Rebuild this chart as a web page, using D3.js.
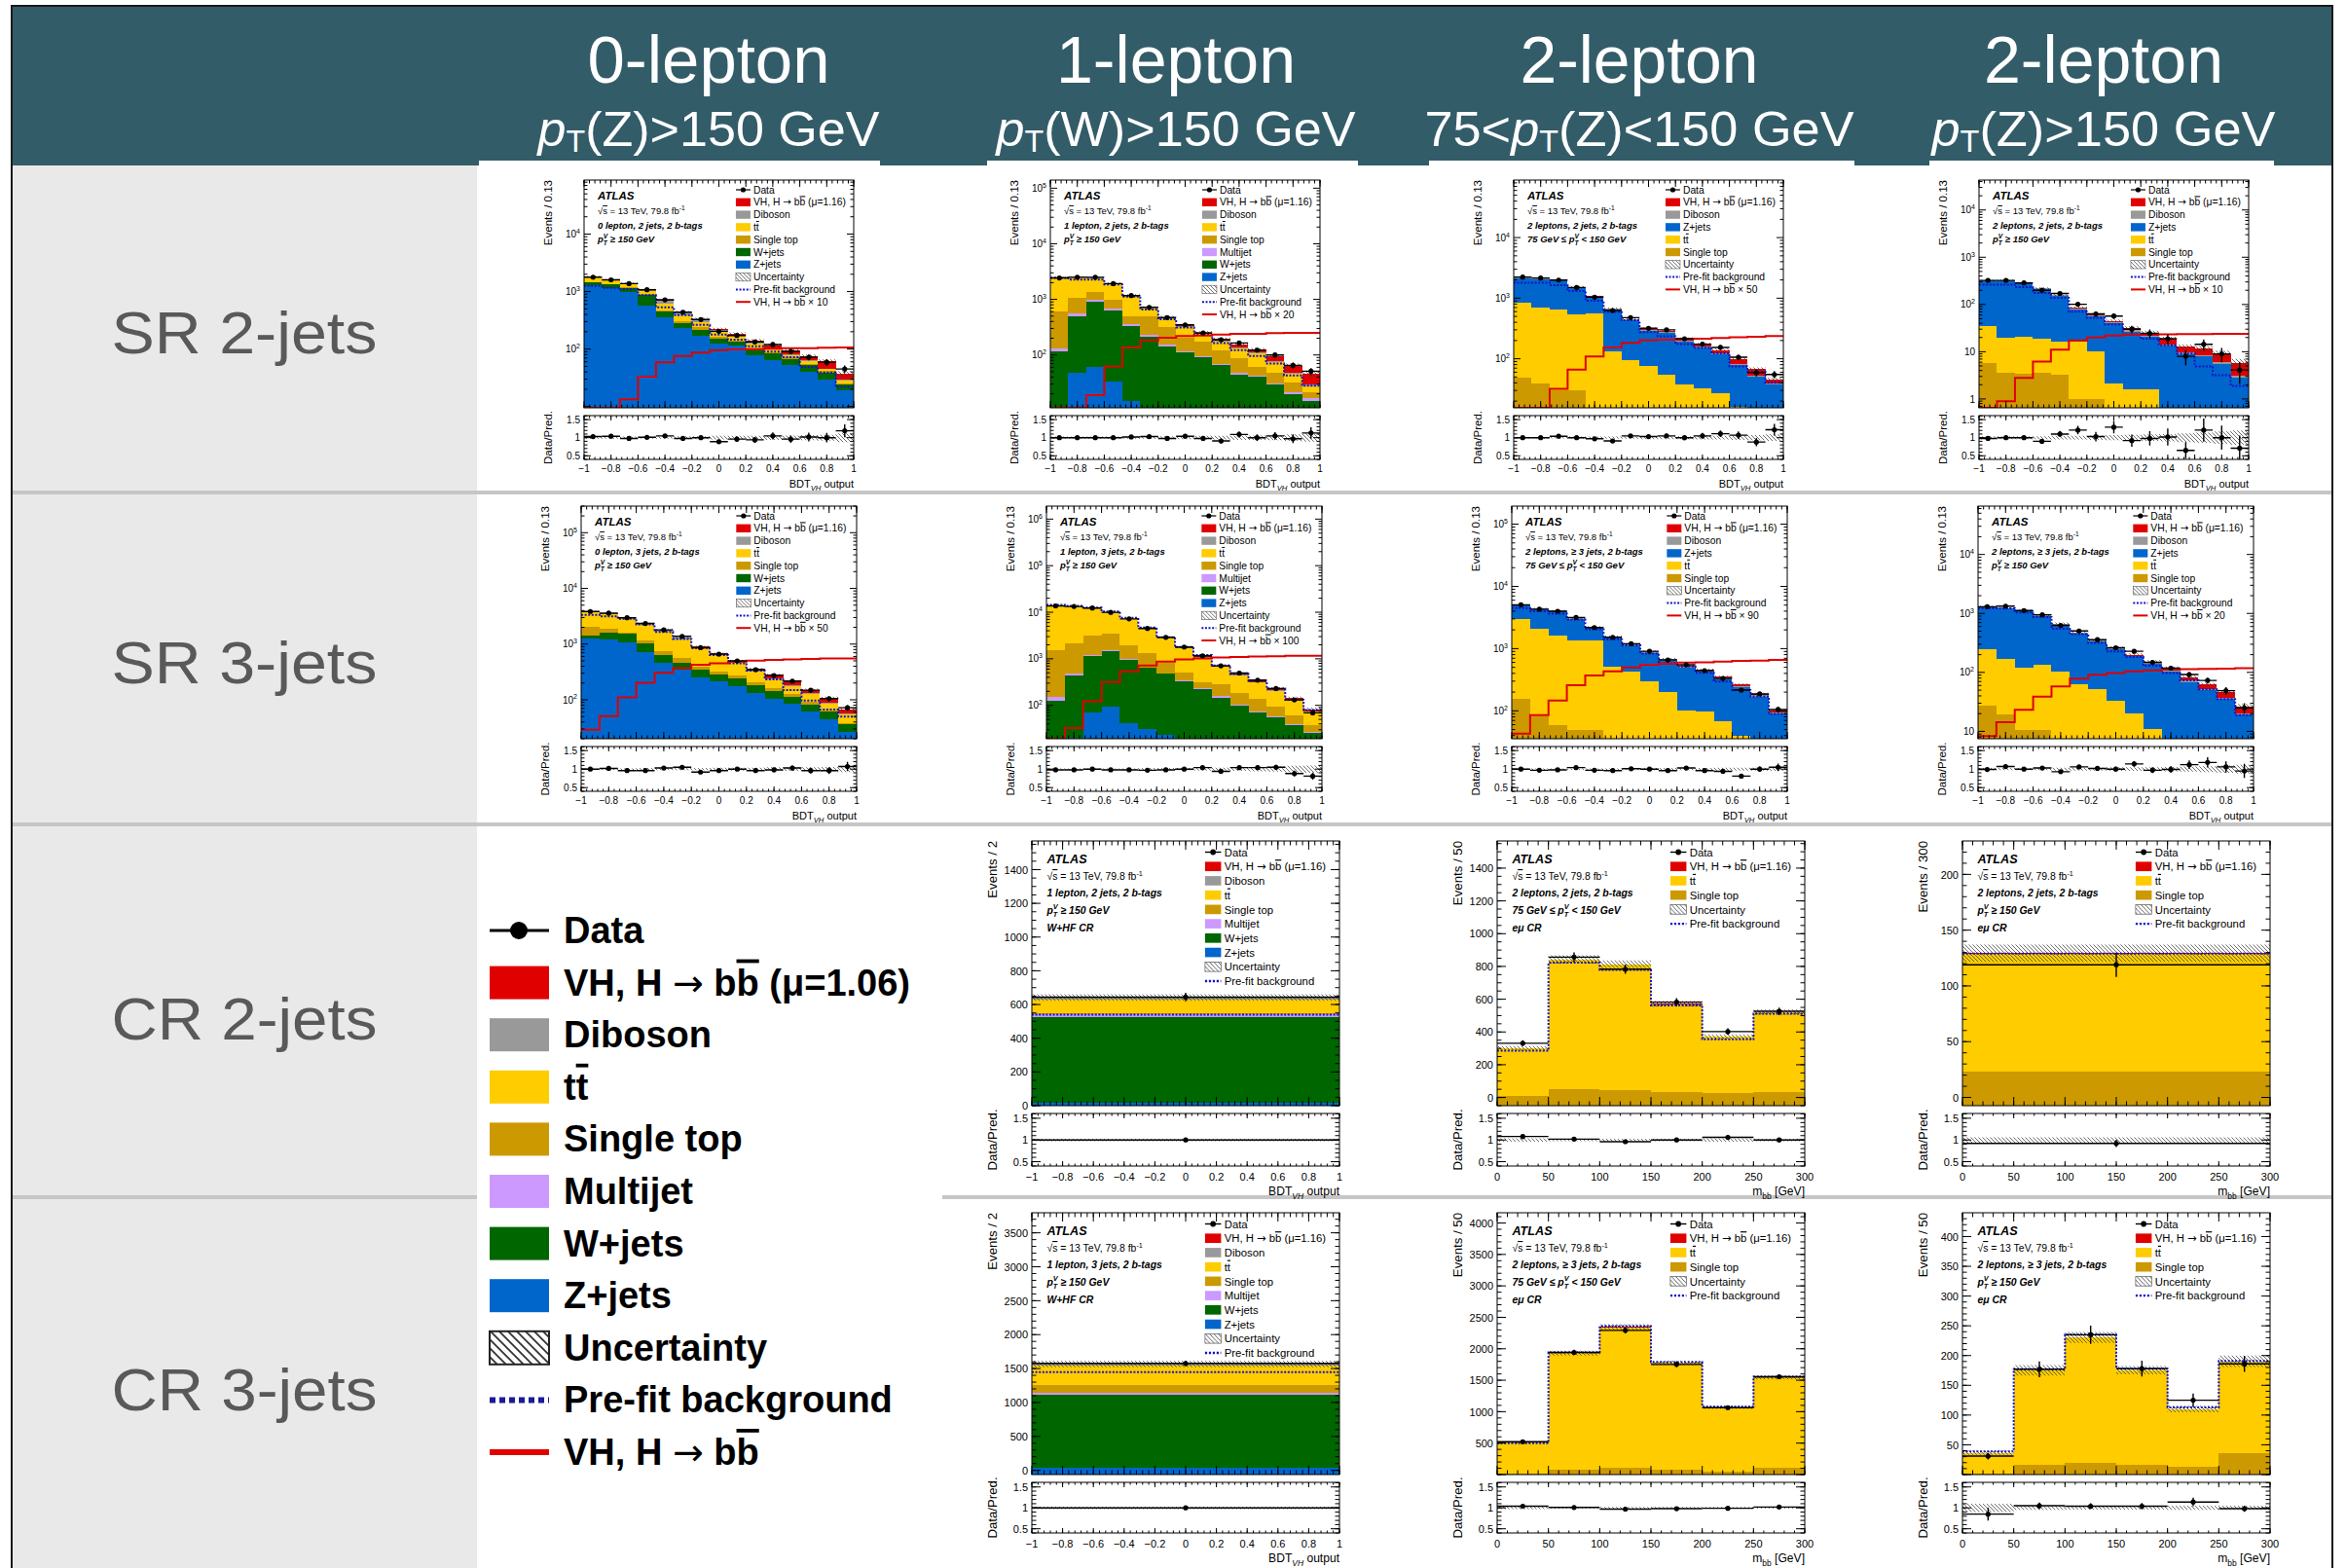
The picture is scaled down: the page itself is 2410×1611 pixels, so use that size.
<!doctype html>
<html lang="en">
<head>
<meta charset="utf-8">
<title>VH, H to bb post-fit distributions</title>
<style>
  * { margin: 0; padding: 0; border: 0; }
  body { background: #fff; width: 2410px; height: 1611px; overflow: hidden; }
  svg { display: block; }
  text { font-family: 'Liberation Sans', Arial, sans-serif; }
</style>
</head>
<body>
<div id="chart"></div>
<script src="https://cdn.jsdelivr.net/npm/d3@7"></script>
<script>

// ---- bins and ticks
const bdtEdges = [-1, -0.8667, -0.7333, -0.6, -0.4667, -0.3333, -0.2, -0.0667, 0.0667, 0.2, 0.3333, 0.4667, 0.6, 0.7333, 0.8667, 1];
const bdtOneBin = [-1, 1];
const mbbEdges = [0, 50, 100, 150, 200, 250, 300];
const mbbOneBin = [0, 300];
const bdtTicks = [-1, -0.8, -0.6, -0.4, -0.2, 0, 0.2, 0.4, 0.6, 0.8, 1];
const mbbTicks = [0, 50, 100, 150, 200, 250, 300];

const colTitles = ['0-lepton', '1-lepton', '2-lepton', '2-lepton'];
const rowTitles = ['SR 2-jets', 'SR 3-jets', 'CR 2-jets', 'CR 3-jets'];

// ---- SR 2-jets, 0 lepton
const A_z = [1290, 1160, 1000, 580, 350, 230, 172, 125, 114, 79, 65, 52, 40, 30, 19];
const A_w = [150, 160, 150, 290, 95, 55, 45, 28, 20, 20, 18, 16, 13, 9, 5];
const A_st = [40, 40, 40, 40, 30, 25, 20, 10, 8, 6, 4, 3, 2, 2, 1];
const A_tt = [260, 180, 150, 130, 130, 80, 55, 35, 26, 20, 12, 8, 6, 4, 3];
const A_db = [80, 60, 50, 40, 100, 45, 35, 15, 8, 5, 4, 3, 2, 1, 1];
const A_vh = [2, 3, 3, 5, 5, 6, 8, 10, 10, 12, 14, 14, 12, 15, 8];
const A_data = [1780, 1600, 1375, 1075, 718, 438, 326, 204, 172, 133, 120, 91, 72, 59, 45];
const A_ratio = [1.03, 1.04, 0.98, 1.01, 1.05, 0.98, 1.0, 0.89, 0.96, 0.94, 1.05, 0.96, 1.02, 1.0, 1.19];
const A_prefit = [1255, 1165, 1100, 870, 533, 390, 264, 179, 146, 112, 90, 72, 49, 39, 22];
const A_sig = [9, 9, 13.4, 33, 59, 76, 87, 96, 99, 99, 101, 103, 103, 105, 107];
const A_unc = [0.03, 0.03, 0.03, 0.03, 0.03, 0.04, 0.04, 0.05, 0.05, 0.05, 0.06, 0.06, 0.07, 0.08, 0.12];

// ---- SR 2-jets, 1 lepton
const B_z = [2, 48, 60, 33, 15, 5, 2, 0, 0, 0, 0, 0, 0, 0, 0];
const B_w = [113, 452, 860, 607, 320, 210, 140, 110, 90, 66, 45, 41, 29, 20, 15];
const B_mj = [16, 50, 60, 40, 23, 15, 10, 8, 6, 4, 3, 2, 2, 1.5, 1.5];
const B_st = [480, 500, 390, 300, 140, 270, 160, 85, 75, 52, 38, 18, 16, 10, 4.5];
const B_tt = [1840, 1450, 1050, 940, 670, 200, 150, 120, 65, 55, 45, 45, 27, 15, 6];
const B_db = [40, 40, 40, 30, 30, 20, 15, 10, 8, 6, 5, 4, 3, 2, 2];
const B_vh = [2, 3, 4, 5, 6, 7, 8, 10, 10, 13, 18, 16, 19, 16, 17];
const B_data = [2430, 2500, 2500, 1920, 1170, 720, 470, 348, 249, 188, 164, 122, 100, 65, 51];
const B_ratio = [1.0, 1.0, 1.0, 1.0, 1.02, 1.03, 0.98, 1.04, 0.98, 0.91, 1.09, 1.0, 1.05, 0.97, 1.13];
const B_prefit = [2430, 2280, 2280, 1860, 1120, 655, 438, 313, 230, 164, 122, 96, 70, 43, 28];
const B_sig = [10, 10, 19, 62, 136, 183, 204, 218, 224, 233, 240, 240, 246, 249, 249];
const B_unc = [0.03, 0.03, 0.03, 0.03, 0.03, 0.03, 0.04, 0.04, 0.05, 0.05, 0.06, 0.06, 0.07, 0.09, 0.11];

// ---- SR 2-jets, 2 leptons, 75-150 GeV
const C_st = [48, 39, 30, 30, 8, 3, 1, 0, 0, 0, 0, 0, 0, 0, 0];
const C_tt = [780, 650, 620, 510, 560, 128, 95, 75, 55, 38, 33, 27, 16, 2, 1];
const C_z = [1300, 1390, 1290, 960, 470, 510, 330, 215, 210, 155, 118, 90, 62, 48, 36];
const C_db = [60, 60, 50, 45, 30, 30, 20, 12, 10, 8, 7, 6, 4, 3, 2];
const C_vh = [2, 3, 4, 5, 5, 8, 10, 12, 13, 14, 16, 17, 17, 14, 6];
const C_data = [2230, 2150, 1990, 1500, 1040, 626, 477, 318, 300, 214, 174, 154, 106, 59, 55];
const C_ratio = [1.0, 1.0, 1.04, 1.0, 0.97, 0.91, 1.05, 1.03, 1.05, 1.0, 1.05, 1.11, 1.07, 0.88, 1.22];
const C_prefit = [1800, 1800, 1640, 1310, 905, 595, 432, 275, 234, 174, 152, 123, 75, 61, 40];
const C_sig = [15, 15, 32, 66, 109, 154, 183, 202, 207, 212, 214, 220, 226, 231, 237];
const C_unc = [0.02, 0.02, 0.02, 0.03, 0.03, 0.03, 0.03, 0.04, 0.04, 0.04, 0.05, 0.05, 0.06, 0.07, 0.09];

// ---- SR 2-jets, 2 leptons, >150 GeV
const D_st = [5.9, 3.6, 3.4, 3.6, 3.3, 1, 1, 0.3, 0, 0, 0, 0, 0, 0, 0];
const D_tt = [29, 16, 17, 15, 13, 15, 9, 1.8, 1.6, 1.6, 0, 0, 0, 0, 0];
const D_z = [280, 295, 258, 195, 137, 63, 47, 38, 25, 19, 13.5, 8.8, 8, 5.6, 2.8];
const D_db = [8, 8, 7, 7, 6, 5, 3, 2.5, 2, 1.5, 1, 0.7, 0.6, 0.4, 0.3];
const D_vh = [0.5, 0.6, 0.8, 1, 1, 2, 2, 2.5, 3.4, 3.4, 4.3, 3.2, 3, 3, 2.8];
const D_data = [323, 323, 286, 200, 171, 101, 63, 57, 30, 24.5, 18.8, 8, 14.4, 9, 4.1];
const D_ratio = [0.98, 1.0, 1.0, 0.9, 1.1, 1.21, 1.03, 1.29, 0.92, 0.98, 1.02, 0.65, 1.21, 1.0, 0.71];
const D_prefit = [262, 262, 234, 176, 139, 70, 52, 38, 23, 18.8, 13.7, 9.2, 4.9, 3.2, 1.9];
const D_sig = [0.65, 0.9, 2.8, 6.2, 11.1, 17.3, 20, 22, 23, 23, 23.4, 23.6, 23.6, 23.8, 23.8];
const D_unc = [0.04, 0.04, 0.04, 0.04, 0.05, 0.05, 0.06, 0.07, 0.08, 0.09, 0.1, 0.12, 0.14, 0.17, 0.2];

// ---- SR 3-jets, 0 lepton
const E_z = [1240, 1190, 1080, 725, 454, 347, 255, 212, 178, 132, 104, 85, 61, 45, 26];
const E_w = [180, 430, 440, 315, 180, 120, 92, 72, 64, 51, 41, 26, 21, 16, 10];
const E_st = [640, 230, 100, 120, 110, 90, 50, 40, 35, 20, 20, 16, 9, 4, 2];
const E_tt = [1660, 1580, 1260, 1080, 960, 670, 450, 305, 183, 113, 72, 51, 37, 19, 17];
const E_db = [120, 120, 90, 100, 90, 70, 40, 25, 15, 12, 10, 7, 4, 3, 2];
const E_vh = [5, 6, 8, 10, 12, 15, 18, 22, 25, 30, 32, 26, 20, 21, 11];
const E_data = [3850, 3600, 2970, 2350, 1800, 1380, 862, 660, 500, 347, 273, 217, 149, 105, 72];
const E_ratio = [1.0, 1.02, 0.96, 0.96, 1.03, 1.05, 0.92, 0.96, 1.0, 0.96, 0.98, 1.03, 0.96, 0.96, 1.07];
const E_prefit = [3360, 3160, 2840, 2270, 1660, 1240, 850, 635, 454, 334, 233, 149, 97, 67, 50];
const E_sig = [29, 51, 111, 203, 304, 371, 424, 454, 485, 505, 519, 532, 540, 555, 555];
const E_unc = [0.02, 0.02, 0.02, 0.03, 0.03, 0.03, 0.03, 0.04, 0.04, 0.04, 0.05, 0.05, 0.05, 0.06, 0.08];

// ---- SR 3-jets, 1 lepton
const F_z = [2, 20, 72, 92, 41, 31, 23, 5, 2, 1, 0, 0, 0, 0, 1];
const F_w = [125, 420, 1090, 1390, 900, 600, 450, 327, 225, 147, 98, 71, 56, 37, 25];
const F_mj = [22, 40, 30, 40, 30, 25, 20, 15, 10, 8, 5, 4, 3, 2, 1];
const F_st = [1380, 1640, 1930, 1880, 970, 640, 310, 150, 80, 130, 85, 62, 34, 23, 11];
const F_tt = [12000, 11000, 9000, 6400, 5150, 3300, 2000, 1230, 750, 380, 250, 170, 110, 65, 35];
const F_db = [150, 150, 150, 130, 90, 80, 60, 40, 30, 20, 12, 8, 5, 3, 2];
const F_vh = [5, 8, 10, 15, 20, 24, 30, 30, 35, 35, 30, 25, 18, 12, 6];
const F_data = [13700, 13300, 12300, 9950, 7200, 4480, 2890, 1790, 1160, 706, 495, 348, 230, 131, 69];
const F_ratio = [0.98, 0.98, 1.0, 0.98, 0.98, 0.97, 0.98, 1.0, 1.04, 0.94, 1.04, 1.04, 1.05, 0.88, 0.81];
const F_prefit = [14400, 13700, 12600, 10400, 7560, 4700, 2890, 1790, 1200, 717, 473, 333, 230, 131, 79];
const F_sig = [19, 32.5, 123, 317, 538, 720, 870, 973, 1020, 1070, 1090, 1120, 1140, 1160, 1160];
const F_unc = [0.02, 0.02, 0.02, 0.02, 0.02, 0.03, 0.03, 0.03, 0.04, 0.04, 0.05, 0.06, 0.07, 0.09, 0.1];

// ---- SR 3-jets, 2 leptons, 75-150 GeV
const G_st = [156, 82, 60, 49, 49, 10, 5, 3, 2, 1, 1, 0, 0, 0, 0];
const G_tt = [2790, 1970, 1555, 1300, 1300, 507, 426, 298, 196, 101, 95, 67, 39, 10, 5];
const G_z = [1950, 2250, 2330, 1590, 820, 1000, 710, 560, 445, 395, 335, 258, 200, 160, 85];
const G_db = [150, 130, 120, 90, 70, 55, 40, 35, 28, 22, 17, 14, 12, 7, 4];
const G_vh = [4, 6, 8, 10, 12, 10, 12, 14, 14, 15, 14, 14, 14, 10, 6];
const G_data = [5050, 4310, 3990, 3160, 2180, 1520, 1200, 908, 657, 550, 443, 332, 215, 187, 105];
const G_ratio = [1.0, 0.97, 0.98, 1.04, 0.97, 0.96, 1.01, 1.0, 0.96, 1.03, 0.96, 0.94, 0.81, 1.0, 1.05];
const G_prefit = [4480, 3990, 3650, 2945, 2053, 1400, 1130, 835, 583, 517, 407, 295, 215, 170, 89];
const G_sig = [43, 85, 147, 258, 369, 431, 499, 549, 570, 596, 604, 619, 635, 640, 657];
const G_unc = [0.02, 0.02, 0.02, 0.02, 0.02, 0.02, 0.03, 0.03, 0.03, 0.03, 0.03, 0.04, 0.04, 0.04, 0.05];

// ---- SR 3-jets, 2 leptons, >150 GeV
const H_st = [27, 19.5, 10.4, 10.6, 7, 5, 3, 1, 0.5, 0.3, 0, 0, 0, 0, 0];
const H_tt = [225, 152, 110, 123, 97, 57, 50, 32, 20, 10.7, 5, 3, 2, 1, 0.5];
const H_z = [1020, 1030, 965, 757, 546, 396, 282, 214, 166, 129, 100, 66, 48, 34, 19];
const H_db = [40, 40, 33, 28, 20, 14, 11, 8, 6, 5, 4, 3, 2, 1.5, 1];
const H_vh = [1, 1.5, 2, 3, 4, 4, 6, 7, 7.5, 8, 10, 10, 10, 9.5, 5.5];
const H_data = [1300, 1330, 1120, 950, 627, 505, 359, 262, 228, 148, 118, 92, 73, 49, 25];
const H_ratio = [0.99, 1.07, 1.0, 1.03, 0.93, 1.06, 1.02, 1.0, 1.14, 0.97, 0.99, 1.12, 1.18, 1.06, 0.95];
const H_prefit = [1225, 1225, 1040, 870, 550, 444, 316, 228, 183, 130, 97.6, 73, 51.8, 35.4, 18.8];
const H_sig = [8.3, 14.3, 23.3, 38.7, 58, 78.5, 91, 97.6, 104, 108, 111, 113, 115, 116, 118];
const H_unc = [0.03, 0.03, 0.03, 0.03, 0.04, 0.04, 0.04, 0.05, 0.05, 0.05, 0.06, 0.07, 0.08, 0.1, 0.12];

// ---- CR 2-jets
const I_z = [18], I_w = [506], I_mj = [16], I_st = [10], I_tt = [80], I_db = [10], I_vh = [1];
const I_data = [644], I_ratio = [1.0], I_prefit = [540], I_unc = [0.03];
const J_st = [10, 50, 46, 34, 28, 36];
const J_tt = [291, 790, 765, 536, 341, 484];
const J_vh = [0.5, 2, 2, 1.5, 1, 1];
const J_data = [331, 857, 783, 582, 402, 526];
const J_ratio = [1.08, 1.02, 0.96, 1.0, 1.06, 1.0];
const J_prefit = [285, 823, 779, 562, 355, 512];
const J_unc = [0.04, 0.03, 0.03, 0.03, 0.04, 0.03];
const K_st = [23], K_tt = [106], K_vh = [0.3];
const K_data = [119], K_ratio = [0.92], K_prefit = [129], K_unc = [0.06];

// ---- CR 3-jets
const L_z = [38], L_w = [1075], L_mj = [24], L_st = [119], L_tt = [286], L_db = [24], L_vh = [2];
const L_data = [1576], L_ratio = [1.0], L_prefit = [1447], L_unc = [0.03];
const M_st = [10, 83, 108, 83, 46, 108];
const M_tt = [500, 1847, 2235, 1692, 1017, 1435];
const M_vh = [1, 2, 2, 2, 1, 2];
const M_data = [522, 1942, 2293, 1751, 1064, 1555];
const M_ratio = [1.04, 1.01, 0.97, 0.98, 0.99, 1.02];
const M_prefit = [501, 1942, 2360, 1787, 1080, 1555];
const M_unc = [0.03, 0.02, 0.02, 0.02, 0.02, 0.02];
const N_st = [1, 17, 19, 16, 13.6, 36.5];
const N_tt = [35.5, 158, 211, 159, 96.4, 153.5];
const N_vh = [0.1, 0.3, 0.3, 0.3, 0.2, 0.3];
const N_data = [31, 177, 235, 178, 125, 186];
const N_ratio = [0.85, 1.05, 1.04, 1.04, 1.14, 0.98];
const N_prefit = [39, 177, 235, 178, 113, 191];
const N_unc = [0.1, 0.05, 0.04, 0.04, 0.05, 0.05];

// ---- styles
const col = { vh: '#e00000', db: '#999999', tt: '#ffcc00', st: '#cc9900', mj: '#cc99ff',
              w: '#006600', z: '#0066cc', pre: '#1414c8', sig: '#e00000' };

const svg = d3.select('#chart').append('svg').attr('width', 2410).attr('height', 1611);
const defs = svg.append('defs');
function hatch(id, s, sw) {
  defs.append('pattern').attr('id', id).attr('patternUnits', 'userSpaceOnUse')
    .attr('width', s).attr('height', s)
    .append('path').attr('d', `M-1,-1L${s + 1},${s + 1}M-1,${s - 1}L1,${s + 1}M${s - 1},-1L${s + 1},1`)
    .attr('stroke', '#333').attr('stroke-width', sw);
}
hatch('hatch', 4, 0.7);
hatch('hatchBig', 9, 1.8);

// rich text: segs = [[str, kind]]
function rich(t, segs, fs, o = {}) {
  if (typeof segs === 'string') segs = [[segs]];
  const subD = o.subD ?? 0.28 * fs, supD = o.supD ?? -0.42 * fs, small = o.small ?? 0.7;
  let shift = 0;
  segs.forEach(([s, k]) => {
    const ts = t.append('tspan').text(s);
    let target = 0;
    if (k === 'sub' || k === 'subit') { target = subD; ts.attr('font-size', fs * small); }
    if (k === 'sup' || k === 'supb') { target = supD; ts.attr('font-size', fs * small); }
    if (k === 'supb') ts.attr('dx', -fs * small * 0.62);
    if (k === 'subit' || k === 'it') ts.attr('font-style', 'italic');
    if (k === 'over') ts.style('text-decoration', 'overline');
    if (k === 'sym') ts.attr('font-family', 'DejaVu Sans').attr('font-weight', 'normal');
    if (target !== shift) { ts.attr('dy', target - shift); shift = target; }
  });
  return t;
}
function label(g, x, y, segs, o) {
  let tr = `translate(${x},${y}) scale(${o.sx || 1},${o.sy || 1})`;
  if (o.rotate) tr += ` rotate(${o.rotate})`;
  const t = g.append('g').attr('transform', tr).append('text')
    .attr('font-size', o.size).attr('text-anchor', o.anchor || 'start')
    .attr('font-weight', o.weight || 'normal').attr('font-style', o.style || 'normal')
    .attr('fill', o.fill || '#000');
  return rich(t, segs, o.size, o);
}

// ---- page furniture
svg.append('rect').attr('x', 12).attr('y', 6).attr('width', 2384).attr('height', 164).attr('fill', '#335c69');
svg.append('rect').attr('x', 12).attr('y', 170).attr('width', 478).attr('height', 1441).attr('fill', '#e9e9e9');
[[492, 904], [1014, 1395], [1468, 1905], [1982, 2336]].forEach(([a, b]) =>
  svg.append('rect').attr('x', a).attr('y', 165).attr('width', b - a).attr('height', 6).attr('fill', '#fff'));
[[12, 2396, 504], [12, 2396, 845], [12, 490, 1228], [968, 2396, 1228]].forEach(([a, b, yy]) =>
  svg.append('rect').attr('x', a).attr('y', yy).attr('width', b - a).attr('height', 4).attr('fill', '#c6c6c6'));
svg.append('path').attr('d', 'M12,1611V6H2396V1611').attr('fill', 'none').attr('stroke', '#1a1a1a').attr('stroke-width', 2);

const colCenters = [728, 1208, 1684, 2161];
const colSubs = [
  [['p', 'it'], ['T', 'sub'], ['(Z)>150 GeV']],
  [['p', 'it'], ['T', 'sub'], ['(W)>150 GeV']],
  [['75<'], ['p', 'it'], ['T', 'sub'], ['(Z)<150 GeV']],
  [['p', 'it'], ['T', 'sub'], ['(Z)>150 GeV']]
];
const titleW = [249, 246, 245, 246], subW = [351, 369, 441, 353];
colTitles.forEach((t, i) => {
  svg.append('text').attr('x', colCenters[i]).attr('y', 85).attr('text-anchor', 'middle')
    .attr('font-family', 'Roboto, Liberation Sans, sans-serif').attr('font-weight', 300)
    .attr('font-size', 68).attr('fill', '#fff').attr('textLength', titleW[i])
    .attr('lengthAdjust', 'spacingAndGlyphs').text(t);
  const s = svg.append('text').attr('x', colCenters[i]).attr('y', 150).attr('text-anchor', 'middle')
    .attr('font-family', 'Roboto, Liberation Sans, sans-serif').attr('font-weight', 300)
    .attr('font-size', 50).attr('fill', '#fff').attr('textLength', subW[i])
    .attr('lengthAdjust', 'spacingAndGlyphs');
  rich(s, colSubs[i], 50, { subD: 6, small: 0.62 });
});
const rowBase = [363, 702, 1068, 1449];
rowTitles.forEach((t, i) => {
  svg.append('text').attr('x', 251).attr('y', rowBase[i]).attr('text-anchor', 'middle')
    .attr('font-family', 'Roboto, Liberation Sans, sans-serif').attr('font-weight', 300)
    .attr('font-size', 62).attr('fill', '#595959').attr('textLength', 273)
    .attr('lengthAdjust', 'spacingAndGlyphs').text(t);
});

// ---- legend entries
const bb = [['VH, H '], ['→', 'sym'], [' b'], ['b', 'over']];
const Ent = {
  data: ['data', null, 'Data'],
  vh: ['box', col.vh, [...bb, [' (μ=1.16)']]],
  db: ['box', col.db, 'Diboson'],
  tt: ['box', col.tt, [['t'], ['t', 'over']]],
  st: ['box', col.st, 'Single top'],
  mj: ['box', col.mj, 'Multijet'],
  w: ['box', col.w, 'W+jets'],
  z: ['box', col.z, 'Z+jets'],
  unc: ['hatch', null, 'Uncertainty'],
  pre: ['dots', null, 'Pre-fit background']
};
const sigEnt = n => ['line', null, [...bb, ['  × ' + n]]];
const leg0L = n => [Ent.data, Ent.vh, Ent.db, Ent.tt, Ent.st, Ent.w, Ent.z, Ent.unc, Ent.pre, sigEnt(n)];
const leg1L = n => [Ent.data, Ent.vh, Ent.db, Ent.tt, Ent.st, Ent.mj, Ent.w, Ent.z, Ent.unc, Ent.pre, sigEnt(n)];
const leg2L = n => [Ent.data, Ent.vh, Ent.db, Ent.z, Ent.tt, Ent.st, Ent.unc, Ent.pre, sigEnt(n)];
const legCR1 = [Ent.data, Ent.vh, Ent.db, Ent.tt, Ent.st, Ent.mj, Ent.w, Ent.z, Ent.unc, Ent.pre];
const legCR2 = [Ent.data, Ent.vh, Ent.tt, Ent.st, Ent.unc, Ent.pre];

const tSqrt = [['√'], ['s', 'over'], [' = 13 TeV, 79.8 fb'], ['-1', 'sup']];
const tHigh = [['p'], ['T', 'sub'], ['V', 'supb'], [' ≥ 150 GeV']];
const tLow = [['75 GeV  ≤ p'], ['T', 'sub'], ['V', 'supb'], [' < 150 GeV']];

const rows = {
  sr1: { top: 185, h: 234, rTop: 427, rH: 45, w: 277, lefts: [600, 1079, 1555, 2033], sx: 1, sy: 1, gap: 14.5, xt: 29 },
  sr2: { top: 520, h: 239, rTop: 767, rH: 46, w: 283, lefts: [597, 1075, 1553, 2032], sx: 1, sy: 1, gap: 14.5, xt: 29 },
  cr1: { top: 864, h: 272, rTop: 1144, rH: 54, w: 316, lefts: [0, 1060, 1538, 2016], sx: 1.1, sy: 1.15, gap: 15.5, xt: 30 },
  cr2: { top: 1246, h: 269, rTop: 1523, rH: 52, w: 316, lefts: [0, 1060, 1538, 2016], sx: 1.1, sy: 1.15, gap: 15.5, xt: 30 }
};

const st0L = (z, w, s, t, d, v) => [[col.z, z], [col.w, w], [col.st, s], [col.tt, t], [col.db, d], [col.vh, v]];
const st1L = (z, w, m, s, t, d, v) => [[col.z, z], [col.w, w], [col.mj, m], [col.st, s], [col.tt, t], [col.db, d], [col.vh, v]];
const st2L = (s, t, z, d, v) => [[col.st, s], [col.tt, t], [col.z, z], [col.db, d], [col.vh, v]];
const stCR = (s, t, v) => [[col.st, s], [col.tt, t], [col.vh, v]];

const panels = [
  { row: 'sr1', col: 0, edges: bdtEdges, log: true, ydom: [9.5, 8.7e4], yticks: [1e2, 1e3, 1e4], ytitle: 'Events / 0.13',
    stack: st0L(A_z, A_w, A_st, A_tt, A_db, A_vh), data: A_data, ratio: A_ratio, prefit: A_prefit, sig: A_sig, unc: A_unc,
    lines: ['0 lepton, 2 jets, 2 b-tags', tHigh], legend: leg0L(10) },
  { row: 'sr1', col: 1, edges: bdtEdges, log: true, ydom: [11.2, 1.4e5], yticks: [1e2, 1e3, 1e4, 1e5], ytitle: 'Events / 0.13',
    stack: st1L(B_z, B_w, B_mj, B_st, B_tt, B_db, B_vh), data: B_data, ratio: B_ratio, prefit: B_prefit, sig: B_sig, unc: B_unc,
    lines: ['1 lepton, 2 jets, 2 b-tags', tHigh], legend: leg1L(20) },
  { row: 'sr1', col: 2, edges: bdtEdges, log: true, ydom: [15.5, 8.9e4], yticks: [1e2, 1e3, 1e4], ytitle: 'Events / 0.13',
    stack: st2L(C_st, C_tt, C_z, C_db, C_vh), data: C_data, ratio: C_ratio, prefit: C_prefit, sig: C_sig, unc: C_unc,
    lines: ['2 leptons, 2 jets, 2 b-tags', tLow], legend: leg2L(50) },
  { row: 'sr1', col: 3, edges: bdtEdges, log: true, ydom: [0.65, 4.3e4], yticks: [1, 10, 1e2, 1e3, 1e4], ytitle: 'Events / 0.13',
    stack: st2L(D_st, D_tt, D_z, D_db, D_vh), data: D_data, ratio: D_ratio, prefit: D_prefit, sig: D_sig, unc: D_unc,
    lines: ['2 leptons, 2 jets, 2 b-tags', tHigh], legend: leg2L(10) },
  { row: 'sr2', col: 0, edges: bdtEdges, log: true, ydom: [20, 3e5], yticks: [1e2, 1e3, 1e4, 1e5], ytitle: 'Events / 0.13',
    stack: st0L(E_z, E_w, E_st, E_tt, E_db, E_vh), data: E_data, ratio: E_ratio, prefit: E_prefit, sig: E_sig, unc: E_unc,
    lines: ['0 lepton, 3 jets, 2 b-tags', tHigh], legend: leg0L(50) },
  { row: 'sr2', col: 1, edges: bdtEdges, log: true, ydom: [19.2, 1.9e6], yticks: [1e2, 1e3, 1e4, 1e5, 1e6], ytitle: 'Events / 0.13',
    stack: st1L(F_z, F_w, F_mj, F_st, F_tt, F_db, F_vh), data: F_data, ratio: F_ratio, prefit: F_prefit, sig: F_sig, unc: F_unc,
    lines: ['1 lepton, 3 jets, 2 b-tags', tHigh], legend: leg1L(100) },
  { row: 'sr2', col: 2, edges: bdtEdges, log: true, ydom: [35.6, 1.95e5], yticks: [1e2, 1e3, 1e4, 1e5], ytitle: 'Events / 0.13',
    stack: st2L(G_st, G_tt, G_z, G_db, G_vh), data: G_data, ratio: G_ratio, prefit: G_prefit, sig: G_sig, unc: G_unc,
    lines: ['2 leptons, ≥ 3 jets, 2 b-tags', tLow], legend: leg2L(90) },
  { row: 'sr2', col: 3, edges: bdtEdges, log: true, ydom: [7.5, 6.6e4], yticks: [10, 1e2, 1e3, 1e4], ytitle: 'Events / 0.13',
    stack: st2L(H_st, H_tt, H_z, H_db, H_vh), data: H_data, ratio: H_ratio, prefit: H_prefit, sig: H_sig, unc: H_unc,
    lines: ['2 leptons, ≥ 3 jets, 2 b-tags', tHigh], legend: leg2L(20) },
  { row: 'cr1', col: 1, edges: bdtOneBin, log: false, ydom: [0, 1570], yticks: d3.range(0, 1401, 200), yminor: 50, ytitle: 'Events / 2',
    stack: st1L(I_z, I_w, I_mj, I_st, I_tt, I_db, I_vh), data: I_data, ratio: I_ratio, prefit: I_prefit, unc: I_unc,
    lines: ['1 lepton, 2 jets, 2 b-tags', tHigh, 'W+HF CR'], legend: legCR1 },
  { row: 'cr1', col: 2, edges: mbbEdges, log: false, ydom: [-50, 1566], yticks: d3.range(0, 1401, 200), yminor: 50, ytitle: 'Events / 50',
    stack: stCR(J_st, J_tt, J_vh), data: J_data, ratio: J_ratio, prefit: J_prefit, unc: J_unc,
    lines: ['2 leptons, 2 jets, 2 b-tags', tLow, 'eμ CR'], legend: legCR2 },
  { row: 'cr1', col: 3, edges: mbbOneBin, log: false, ydom: [-7.4, 230], yticks: d3.range(0, 201, 50), yminor: 10, ytitle: 'Events / 300',
    stack: stCR(K_st, K_tt, K_vh), data: K_data, ratio: K_ratio, prefit: K_prefit, unc: K_unc,
    lines: ['2 leptons, 2 jets, 2 b-tags', tHigh, 'eμ CR'], legend: legCR2 },
  { row: 'cr2', col: 1, edges: bdtOneBin, log: false, ydom: [-62, 3796], yticks: d3.range(0, 3501, 500), yminor: 100, ytitle: 'Events / 2',
    stack: st1L(L_z, L_w, L_mj, L_st, L_tt, L_db, L_vh), data: L_data, ratio: L_ratio, prefit: L_prefit, unc: L_unc,
    lines: ['1 lepton, 3 jets, 2 b-tags', tHigh, 'W+HF CR'], legend: legCR1 },
  { row: 'cr2', col: 2, edges: mbbEdges, log: false, ydom: [0, 4163], yticks: d3.range(500, 4001, 500), yminor: 100, ytitle: 'Events / 50',
    stack: stCR(M_st, M_tt, M_vh), data: M_data, ratio: M_ratio, prefit: M_prefit, unc: M_unc,
    lines: ['2 leptons, ≥ 3 jets, 2 b-tags', tLow, 'eμ CR'], legend: legCR2 },
  { row: 'cr2', col: 3, edges: mbbEdges, log: false, ydom: [0, 440], yticks: d3.range(50, 401, 50), yminor: 10, ytitle: 'Events / 50',
    stack: stCR(N_st, N_tt, N_vh), data: N_data, ratio: N_ratio, prefit: N_prefit, unc: N_unc,
    lines: ['2 leptons, ≥ 3 jets, 2 b-tags', tHigh, 'eμ CR'], legend: legCR2 }
];

const steps = (edges, lo, hi) => edges.slice(0, -1).flatMap((e, i) =>
  [{ x: e, lo: lo[i], hi: hi[i] }, { x: edges[i + 1], lo: lo[i], hi: hi[i] }]);
const vTicks = (vals, sc, yb, yt, len) => vals.map(v => `M${sc(v)},${yb}v${-len}M${sc(v)},${yt}v${len}`).join('');
const hTicks = (vals, sc, xl, xr, len) => vals.map(v => `M${xl},${sc(v)}h${len}M${xr},${sc(v)}h${-len}`).join('');

panels.forEach((p, pi) => {
  const R = rows[p.row];
  const left = R.lefts[p.col], w = R.w, top = R.top, h = R.h, rTop = R.rTop, rH = R.rH, sx = R.sx, sy = R.sy;
  const bdt = p.edges[0] === -1;
  const x = d3.scaleLinear().domain(bdt ? [-1, 1] : [0, 300]).range([left, left + w]);
  const y = (p.log ? d3.scaleLog() : d3.scaleLinear()).domain(p.ydom).range([top + h, top]).clamp(true);
  const yr = d3.scaleLinear().domain([0.4, 1.61]).range([rTop + rH, rTop]).clamp(true);
  const fy = v => y(p.log ? Math.max(v, p.ydom[0] * 0.5) : v);
  const g = svg.append('g');
  const fs = 10;

  defs.append('clipPath').attr('id', 'cm' + pi).append('rect').attr('x', left).attr('y', top).attr('width', w).attr('height', h);
  defs.append('clipPath').attr('id', 'cr' + pi).append('rect').attr('x', left).attr('y', rTop).attr('width', w).attr('height', rH);
  const main = g.append('g').attr('clip-path', `url(#cm${pi})`);
  const rat = g.append('g').attr('clip-path', `url(#cr${pi})`);

  // stacked backgrounds + signal
  const area = d3.area().x(d => x(d.x)).y0(d => fy(d.lo)).y1(d => fy(d.hi));
  const nb = p.edges.length - 1;
  let cum = new Array(nb).fill(0);
  p.stack.forEach(([c, vals], k) => {
    const lo = k === 0 ? new Array(nb).fill(p.ydom[0]) : cum;
    const hi = cum.map((v, i) => v + vals[i]);
    main.append('path').attr('d', area(steps(p.edges, lo, hi))).attr('fill', c).attr('shape-rendering', 'crispEdges');
    cum = hi;
  });
  const tot = cum;
  main.append('path').attr('d', area(steps(p.edges, tot.map((t, i) => t * (1 - p.unc[i])), tot.map((t, i) => t * (1 + p.unc[i])))))
    .attr('fill', 'url(#hatch)');
  const line = d3.line().x(d => x(d.x)).y(d => fy(d.hi));
  main.append('path').attr('d', line(steps(p.edges, p.prefit, p.prefit))).attr('fill', 'none')
    .attr('stroke', col.pre).attr('stroke-width', 2).attr('stroke-dasharray', '2,1.6');
  if (p.sig) main.append('path').attr('d', line(steps(p.edges, p.sig, p.sig))).attr('fill', 'none')
    .attr('stroke', col.sig).attr('stroke-width', 2);

  // data
  p.data.forEach((d, i) => {
    const x0 = x(p.edges[i]), x1 = x(p.edges[i + 1]), cx = (x0 + x1) / 2, e = Math.sqrt(d);
    main.append('path').attr('d', `M${x0},${fy(d)}H${x1}M${cx},${fy(d - e)}V${fy(d + e)}`)
      .attr('stroke', '#000').attr('stroke-width', 1.4).attr('fill', 'none');
    main.append('circle').attr('cx', cx).attr('cy', fy(d)).attr('r', 2.6).attr('fill', '#000');
    const r = p.ratio[i], re = r / Math.sqrt(d);
    rat.append('path').attr('d', `M${x0},${yr(r)}H${x1}M${cx},${yr(r - re)}V${yr(r + re)}`)
      .attr('stroke', '#000').attr('stroke-width', 1.4).attr('fill', 'none');
    rat.append('circle').attr('cx', cx).attr('cy', yr(r)).attr('r', 2.6).attr('fill', '#000');
  });
  const ra = d3.area().x(d => x(d.x)).y0(d => yr(d.lo)).y1(d => yr(d.hi));
  rat.insert('path', ':first-child').attr('d', ra(steps(p.edges, p.unc.map(u => 1 - u), p.unc.map(u => 1 + u))))
    .attr('fill', 'url(#hatch)');

  // frames and ticks
  [[top, h], [rTop, rH]].forEach(([t, hh]) =>
    g.append('rect').attr('x', left).attr('y', t).attr('width', w).attr('height', hh)
      .attr('fill', 'none').attr('stroke', '#000').attr('stroke-width', 1));
  const xMaj = bdt ? bdtTicks : mbbTicks;
  const xMin = bdt ? d3.range(-1, 1.0001, 0.04) : d3.range(0, 300.1, 10);
  const tl = sy > 1 ? 9 : 7;
  let tp = vTicks(xMaj, x, top + h, top, tl) + vTicks(xMin, x, top + h, top, tl / 2)
    + vTicks(xMaj, x, rTop + rH, rTop, 5) + vTicks(xMin, x, rTop + rH, rTop, 2.5)
    + hTicks([0.5, 1, 1.5], yr, left, left + w, tl) + hTicks(d3.range(0.4, 1.61, 0.1), yr, left, left + w, tl / 2);
  if (p.log) {
    const majors = [], minors = [];
    for (let k = Math.floor(Math.log10(p.ydom[0])); k <= Math.ceil(Math.log10(p.ydom[1])); k++)
      for (let m = 1; m < 10; m++) {
        const v = m * 10 ** k;
        if (v >= p.ydom[0] && v <= p.ydom[1]) (m === 1 ? majors : minors).push(v);
      }
    tp += hTicks(majors, y, left, left + w, tl) + hTicks(minors, y, left, left + w, tl / 2);
  } else {
    const step = p.yticks[1] - p.yticks[0];
    tp += hTicks(d3.range(Math.ceil(p.ydom[0] / step) * step, p.ydom[1], step), y, left, left + w, tl)
      + hTicks(d3.range(Math.ceil(p.ydom[0] / p.yminor) * p.yminor, p.ydom[1], p.yminor), y, left, left + w, tl / 2);
  }
  g.append('path').attr('d', tp).attr('stroke', '#000').attr('stroke-width', 1).attr('fill', 'none');

  // axis labels
  const to = { size: fs, sx, sy };
  p.yticks.forEach(v => {
    const k = Math.round(Math.log10(v));
    const segs = !p.log ? String(v) : k === 0 ? '1' : k === 1 ? '10' : [['10'], [String(k), 'sup']];
    label(g, left - 4, y(v) + 3.6 * sy, segs, { ...to, anchor: 'end' });
  });
  [[0.5, '0.5'], [1, '1'], [1.5, '1.5']].forEach(([v, s]) => label(g, left - 4, yr(v) + 3.6 * sy, s, { ...to, anchor: 'end' }));
  xMaj.forEach(v => label(g, x(v), rTop + rH + 13 * sy, String(v).replace('-', '−'), { ...to, anchor: 'middle' }));
  label(g, left + w, rTop + rH + R.xt,
    bdt ? [['BDT'], ['VH', 'subit'], [' output']] : [['m'], ['bb', 'sub'], [' [GeV]']], { ...to, size: 11, anchor: 'end' });
  label(g, left - 31 * sx - 2, top, p.ytitle, { ...to, size: 11.5, anchor: 'end', rotate: -90 });
  label(g, left - 31 * sx - 2, rTop + rH / 2, 'Data/Pred.', { ...to, size: 11.5, anchor: 'middle', rotate: -90 });

  // inner text
  const inner = g.append('g').attr('transform', `translate(${left},${top}) scale(${sx},${sy})`);
  label(inner, 14, 20, 'ATLAS', { size: 11.5, weight: 'bold', style: 'italic' });
  label(inner, 14, 35, tSqrt, { size: 9.5 });
  p.lines.forEach((s, i) => label(inner, 14, 49.5 + i * R.gap, s, { size: 9.5, weight: 'bold', style: 'italic' }));

  // legend
  const lg = inner.append('g').attr('transform', `translate(${0.563 * w / sx},0)`);
  p.legend.forEach(([type, c, lab], i) => {
    const cy = 10 + i * 12.8;
    if (type === 'data') {
      lg.append('path').attr('d', `M0,${cy}h15`).attr('stroke', '#000').attr('stroke-width', 1.2);
      lg.append('circle').attr('cx', 7.5).attr('cy', cy).attr('r', 2.6);
    } else if (type === 'box' || type === 'hatch') {
      lg.append('rect').attr('x', 0).attr('y', cy - 4.2).attr('width', 15).attr('height', 8.4)
        .attr('fill', type === 'box' ? c : 'url(#hatch)').attr('stroke', type === 'box' ? 'none' : '#555').attr('stroke-width', 0.6);
    } else {
      lg.append('path').attr('d', `M0,${cy}h15`).attr('stroke', type === 'dots' ? col.pre : col.sig)
        .attr('stroke-width', 2).attr('stroke-dasharray', type === 'dots' ? '2,1.6' : null);
    }
    label(lg, 18, cy + 3.6, lab, { size: 10.3 });
  });
});

// ---- shared legend
const bigLegend = [
  ['data', null, 'Data'],
  ['box', col.vh, [...bb, [' (μ=1.06)']]],
  ['box', col.db, 'Diboson'],
  ['box', col.tt, [['t'], ['t', 'over']]],
  ['box', col.st, 'Single top'],
  ['box', col.mj, 'Multijet'],
  ['box', col.w, 'W+jets'],
  ['box', col.z, 'Z+jets'],
  ['hatch', null, 'Uncertainty'],
  ['dots', null, 'Pre-fit background'],
  ['line', null, bb]
];
const big = svg.append('g');
bigLegend.forEach(([type, c, lab], i) => {
  const cy = 956 + i * 53.6;
  if (type === 'data') {
    big.append('path').attr('d', `M503,${cy}h61`).attr('stroke', '#000').attr('stroke-width', 3);
    big.append('circle').attr('cx', 533).attr('cy', cy).attr('r', 9);
  } else if (type === 'box' || type === 'hatch') {
    big.append('rect').attr('x', 503).attr('y', cy - 17).attr('width', 61).attr('height', 34)
      .attr('fill', type === 'box' ? c : 'url(#hatchBig)').attr('stroke', type === 'box' ? 'none' : '#222').attr('stroke-width', 2);
  } else {
    big.append('path').attr('d', `M503,${cy}h61`).attr('stroke', type === 'dots' ? '#1a1a9a' : col.sig)
      .attr('stroke-width', 6).attr('stroke-dasharray', type === 'dots' ? '6,4' : null);
  }
  label(big, 579, cy + 13, lab, { size: 38, weight: 'bold' });
});

</script>
</body>
</html>
